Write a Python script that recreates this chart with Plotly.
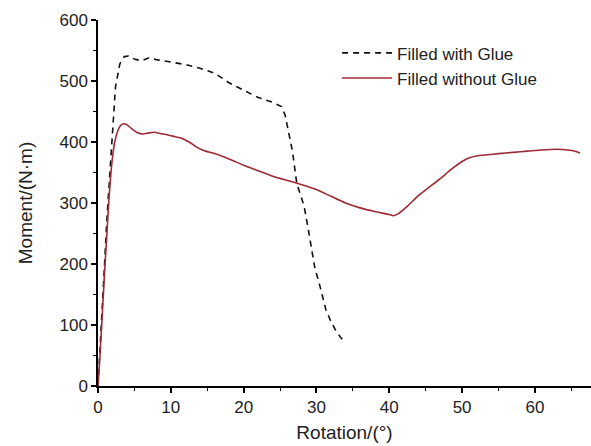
import plotly.graph_objects as go

# Filled with Glue (dashed black)
glue_x = [0, 0.3, 0.6, 0.9, 1.2, 1.6, 2.0, 2.4, 3.0, 3.6, 4.2, 5.0, 6.0, 7.0, 8.0, 9.0,
          10.5, 12.0, 14.0, 16.0, 18.0, 20.0, 22.0, 24.0, 25.2, 25.7, 26.2, 26.7, 27.3,
          27.8, 28.3, 28.8, 29.3, 29.8, 30.3, 30.8, 31.3, 31.9, 32.6, 33.3, 33.9]
glue_y = [0, 60, 130, 200, 270, 350, 430, 490, 528, 540, 541, 536, 533, 538, 535, 533,
          530, 527, 521, 513, 497, 485, 473, 465, 458, 444, 415, 385, 332,
          315, 295, 262, 228, 192, 172, 148, 125, 108, 92, 80, 72]

# Filled without Glue (solid red)
noglue_x = [0, 0.3, 0.6, 0.9, 1.2, 1.5, 1.9, 2.3, 2.7, 3.1, 3.5, 4.0, 4.6, 5.3, 6.2, 7.0,
            7.8, 8.5, 9.5, 10.5, 11.5, 12.5, 13.5, 14.5, 16, 18, 20, 22, 24, 26, 28, 30,
            32, 34, 36, 38, 40, 40.6, 41.3, 42.5, 44, 45.5, 47, 48.5, 50, 51, 52, 53.5,
            55, 57, 59, 61, 63, 64.5, 65.5, 66.2]
noglue_y = [0, 55, 120, 185, 245, 305, 365, 400, 418, 427, 430, 428, 422, 416, 413, 415,
            416, 414, 412, 409, 406, 400, 392, 386, 381, 372, 362, 353, 344, 337, 330, 322,
            311, 300, 292, 286, 281, 279, 283, 295, 312, 326, 340, 355, 368, 374, 377, 379,
            381, 383, 385, 387, 388, 387, 385, 382]

x_ticks = [0, 10, 20, 30, 40, 50, 60]
y_ticks = [0, 100, 200, 300, 400, 500, 600]

FONT = "Liberation Sans, Arial, sans-serif"

fig = go.Figure()
fig.add_trace(go.Scatter(x=glue_x, y=glue_y, mode="lines", name="Filled with Glue",
                         line=dict(color="#111111", width=1.6, dash="6px,5px")))
fig.add_trace(go.Scatter(x=noglue_x, y=noglue_y, mode="lines", name="Filled without Glue",
                         line=dict(color="#9e2a35", width=1.6, shape="spline", smoothing=0.6)))

axis_common = dict(showgrid=False, zeroline=False, showline=True, linecolor="black",
                   linewidth=1.5, ticks="outside", ticklen=5, tickwidth=1.5, tickcolor="black",
                   tickfont=dict(family=FONT, size=17, color="#222"))

fig.update_xaxes(range=[0, 67.7], tickvals=x_ticks, ticktext=[str(v) for v in x_ticks],
                 minor=dict(dtick=5, ticks="outside", ticklen=3, tickwidth=1.3, tickcolor="black"),
                 title=dict(text="Rotation/(°)", font=dict(family=FONT, size=19, color="#222"),
                            standoff=10),
                 **axis_common)
fig.update_yaxes(range=[0, 600], tickvals=y_ticks, ticktext=[str(v) for v in y_ticks],
                 minor=dict(dtick=50, ticks="outside", ticklen=3, tickwidth=1.3, tickcolor="black"),
                 title=dict(text="Moment/(N·m)", font=dict(family=FONT, size=19, color="#222"),
                            standoff=22),
                 **axis_common)

fig.update_layout(
    width=591, height=446,
    margin=dict(l=98, r=0, t=20, b=60),
    plot_bgcolor="white", paper_bgcolor="white",
    showlegend=True,
    legend=dict(x=0.485, y=0.958, xanchor="left", yanchor="top",
                bgcolor="rgba(0,0,0,0)", font=dict(family=FONT, size=17, color="#222"),
                tracegroupgap=0, itemwidth=50),
)

fig.write_html("out.html")
